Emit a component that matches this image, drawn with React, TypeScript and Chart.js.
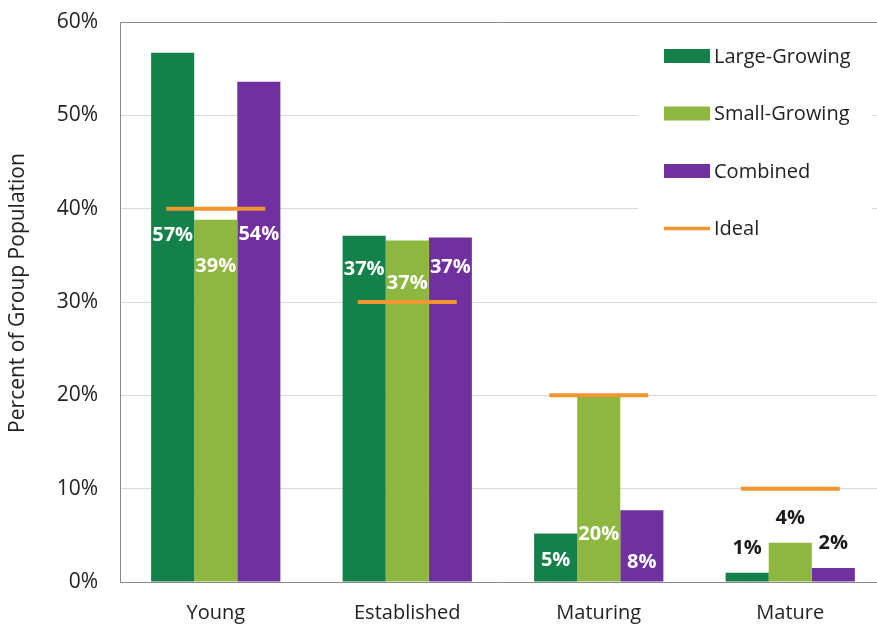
import React, { useEffect, useRef } from "react";
import { Chart, registerables } from "chart.js";

Chart.register(...registerables);

const categories = ["Young", "Established", "Maturing", "Mature"];
const largeGrowing = [56.7, 37.1, 5.2, 1.0];
const smallGrowing = [38.8, 36.6, 20.0, 4.2];
const combined = [53.6, 36.9, 7.7, 1.5];
const ideal = [40, 30, 20, 10];
const yTicks = [0, 10, 20, 30, 40, 50, 60];
const yTitle = "Percent of Group Population";

const COLORS = {
  large: "#14804A",
  small: "#8DB73F",
  combined: "#7030A0",
  ideal: "#F0952F",
  text: "#222222",
};

const FONT = "'Open Sans', 'DejaVu Sans', sans-serif";

// label placement per category: anchor & pixel offsets for each bar series
const labelPlacement = [
  { anchor: "ideal", dy: [27, 58, 26], color: "#ffffff" },
  { anchor: "top", dy: [34, 43, 30], color: "#ffffff" },
  { anchor: "base", dy: [-22, -48, -20], color: "#ffffff" },
  { anchor: "top", dy: [-24, -25, -25], color: "#1a1a1a" },
];

const framePlugin = {
  id: "frame",
  beforeDatasetsDraw(chart: any) {
    const { ctx, chartArea } = chart;
    ctx.save();
    ctx.strokeStyle = "#8a8a8a";
    ctx.lineWidth = 1;
    ctx.beginPath();
    ctx.moveTo(chartArea.left + 0.5, chartArea.bottom);
    ctx.lineTo(chartArea.left + 0.5, chartArea.top + 0.5);
    ctx.lineTo(chartArea.right, chartArea.top + 0.5);
    ctx.stroke();
    // y axis title
    ctx.translate(18, 293);
    ctx.rotate(-Math.PI / 2);
    ctx.font = `21px ${FONT}`;
    ctx.fillStyle = COLORS.text;
    ctx.textAlign = "center";
    ctx.textBaseline = "middle";
    ctx.fillText(yTitle, 0, 0);
    ctx.restore();
  },
};

const labelsPlugin = {
  id: "barLabels",
  afterDatasetsDraw(chart: any) {
    const { ctx } = chart;
    const yScale = chart.scales.y;
    const idealMeta = chart.getDatasetMeta(3);
    ctx.save();
    ctx.font = `bold 20px ${FONT}`;
    ctx.textAlign = "center";
    ctx.textBaseline = "middle";
    for (let d = 0; d < 3; d++) {
      const meta = chart.getDatasetMeta(d);
      const data = chart.data.datasets[d].data as number[];
      meta.data.forEach((bar: any, i: number) => {
        const p = labelPlacement[i];
        let y0 = bar.y;
        if (p.anchor === "ideal") y0 = idealMeta.data[i].y;
        if (p.anchor === "base") y0 = yScale.getPixelForValue(0);
        ctx.fillStyle = p.color;
        ctx.fillText(Math.round(data[i]) + "%", bar.x, y0 + p.dy[d]);
      });
    }
    ctx.restore();
  },
};

const legendPlugin = {
  id: "customLegend",
  afterDraw(chart: any) {
    const { ctx } = chart;
    const x0 = 664;
    const y0 = 56;
    const step = 57.5;
    ctx.save();
    ctx.fillStyle = "#ffffff";
    ctx.fillRect(638, 30, 234, 222);
    ctx.font = `20px ${FONT}`;
    ctx.textBaseline = "middle";
    ctx.textAlign = "left";
    chart.data.datasets.forEach((ds: any, i: number) => {
      const cy = y0 + i * step;
      if (ds.type === "line") {
        ctx.strokeStyle = ds.borderColor;
        ctx.lineWidth = 3.5;
        ctx.beginPath();
        ctx.moveTo(x0, cy);
        ctx.lineTo(x0 + 46, cy);
        ctx.stroke();
      } else {
        ctx.fillStyle = ds.backgroundColor;
        ctx.fillRect(x0, cy - 7, 46, 14);
      }
      ctx.fillStyle = COLORS.text;
      ctx.fillText(ds.label, x0 + 50, cy + 1);
    });
    ctx.restore();
  },
};

export default function App() {
  const ref = useRef<HTMLCanvasElement | null>(null);

  useEffect(() => {
    if (!ref.current) return;
    Chart.defaults.font.family = FONT;
    const chart = new Chart(ref.current, {
      type: "bar",
      data: {
        labels: categories,
        datasets: [
          { type: "bar", label: "Large-Growing", data: largeGrowing, backgroundColor: COLORS.large, order: 1 },
          { type: "bar", label: "Small-Growing", data: smallGrowing, backgroundColor: COLORS.small, order: 1 },
          { type: "bar", label: "Combined", data: combined, backgroundColor: COLORS.combined, order: 1 },
          {
            type: "line",
            label: "Ideal",
            data: ideal,
            borderColor: COLORS.ideal,
            backgroundColor: COLORS.ideal,
            showLine: false,
            pointStyle: "line",
            pointRadius: 49.5,
            pointHoverRadius: 49.5,
            pointBorderWidth: 4,
            borderWidth: 4,
            clip: false,
            order: 0,
          } as any,
        ],
      },
      options: {
        responsive: false,
        animation: false,
        events: [],
        layout: { autoPadding: false, padding: { top: 22, right: 4, left: 0, bottom: 0 } },
        datasets: {
          bar: { categoryPercentage: 0.675, barPercentage: 1, borderWidth: 0 },
        },
        plugins: {
          legend: { display: false },
          tooltip: { enabled: false },
        },
        scales: {
          x: {
            grid: { display: false, drawTicks: false },
            border: { display: true, color: "#8a8a8a", width: 1 },
            ticks: { color: COLORS.text, font: { size: 20, family: FONT }, padding: 19 },
            afterFit: (scale: any) => {
              scale.height = 58;
              scale.paddingLeft = 0;
              scale.paddingRight = 0;
            },
          },
          y: {
            min: 0,
            max: 60,
            afterBuildTicks: (scale: any) => {
              scale.ticks = yTicks.map((v) => ({ value: v }));
            },
            grid: { color: "#d9d9d9", lineWidth: 1, drawTicks: false },
            border: { display: false },
            ticks: {
              color: COLORS.text,
              font: { size: 21, family: FONT },
              padding: 22,
              callback: (v: any) => v + "%",
            },
            afterFit: (scale: any) => {
              scale.width = 120;
              scale.paddingTop = 0;
              scale.paddingBottom = 0;
            },
          },
        },
      },
      plugins: [framePlugin, labelsPlugin, legendPlugin],
    });
    return () => chart.destroy();
  }, []);

  return (
    <div
      style={{
        position: "fixed",
        left: 0,
        top: 0,
        width: 877,
        height: 625,
        overflow: "hidden",
        background: "#ffffff",
      }}
    >
      <canvas ref={ref} width={890} height={640} style={{ display: "block" }} />
    </div>
  );
}
